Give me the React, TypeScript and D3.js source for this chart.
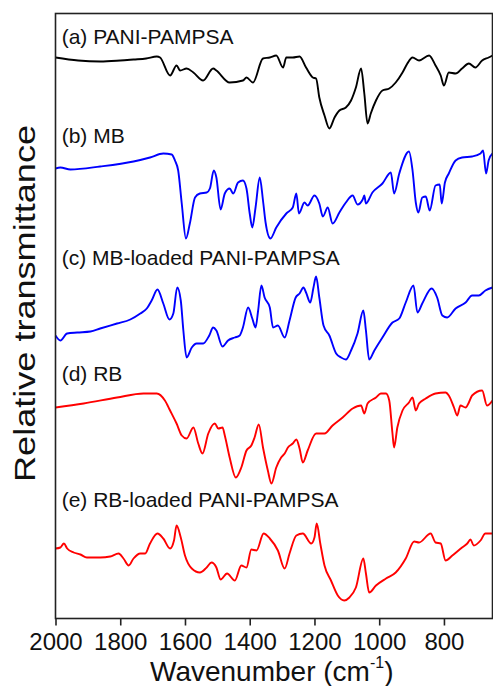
import React, { useEffect, useRef } from 'react';
import * as d3 from 'd3';

// FTIR spectra, [wavenumber (cm-1), relative transmittance (offset per trace)]
const specA: [number, number][] = [
  [2000, 56.1], [1930, 55.8], [1862, 55.7], [1800, 55.8], [1759, 55.9], [1720, 56.0], [1687, 56.2], [1677, 56.1],
  [1646, 54.3], [1626, 55.3], [1615, 54.8], [1595, 55.0], [1574, 54.6], [1544, 53.8], [1513, 55.0], [1503, 54.8],
  [1462, 53.6], [1421, 53.8], [1410, 54.1], [1390, 53.6], [1359, 56.0], [1338, 56.1], [1318, 56.3], [1297, 55.1],
  [1287, 56.1], [1267, 56.1], [1246, 56.2], [1226, 55.1], [1205, 54.1], [1195, 54.0], [1185, 52.1], [1169, 50.3],
  [1154, 49.0], [1138, 50.1], [1123, 50.8], [1103, 51.1], [1087, 51.8], [1072, 53.1], [1056, 55.0], [1046, 52.5],
  [1036, 49.5], [1026, 50.5], [1010, 51.8], [990, 52.8], [969, 53.0], [949, 53.6], [928, 54.6], [913, 55.5],
  [897, 56.1], [877, 55.8], [846, 56.3], [826, 55.3], [810, 54.3], [800, 53.3], [785, 54.6], [764, 54.5],
  [744, 55.0], [723, 55.5], [703, 55.1], [682, 55.8], [662, 56.1], [650, 56.3],
];

const specB: [number, number][] = [
  [2000, 45.0], [1985, 45.1], [1954, 44.9], [1862, 45.2], [1759, 45.7], [1708, 46.1], [1667, 46.5], [1641, 46.4],
  [1631, 45.8], [1621, 44.8], [1610, 41.5], [1597, 38.0], [1585, 39.5], [1569, 42.1], [1554, 42.5], [1533, 42.6],
  [1523, 43.0], [1511, 44.8], [1503, 44.1], [1490, 40.9], [1477, 42.5], [1462, 43.0], [1451, 42.5], [1436, 43.6],
  [1421, 43.8], [1410, 43.0], [1400, 40.5], [1392, 39.1], [1382, 41.1], [1369, 44.1], [1359, 41.8], [1351, 39.6],
  [1336, 38.0], [1318, 39.1], [1287, 40.5], [1267, 41.1], [1256, 42.5], [1248, 40.5], [1231, 41.6], [1221, 41.3],
  [1200, 42.3], [1185, 41.5], [1174, 40.2], [1159, 41.1], [1144, 39.5], [1123, 40.6], [1103, 41.6], [1082, 42.3],
  [1067, 41.4], [1051, 41.9], [1046, 42.3], [1041, 41.5], [1021, 42.6], [990, 43.5], [964, 44.6], [954, 42.5],
  [938, 44.5], [908, 46.7], [897, 44.8], [887, 41.6], [879, 40.6], [867, 42.1], [856, 42.2], [844, 40.8],
  [826, 43.3], [813, 43.4], [807, 41.5], [797, 43.6], [785, 44.5], [764, 45.8], [744, 46.1], [713, 46.2],
  [687, 46.5], [679, 46.8], [670, 44.5], [662, 45.8], [650, 46.5],
];

const specC: [number, number][] = [
  [2000, 28.3], [1985, 27.8], [1964, 28.5], [1933, 28.6], [1892, 28.7], [1862, 29.0], [1810, 29.5], [1769, 29.9],
  [1738, 30.5], [1718, 31.0], [1703, 31.8], [1685, 32.9], [1667, 31.5], [1648, 29.9], [1636, 30.5], [1624, 33.1],
  [1613, 31.8], [1605, 28.8], [1595, 26.1], [1579, 27.1], [1564, 27.5], [1544, 27.5], [1525, 28.3], [1513, 29.1],
  [1503, 28.8], [1484, 27.2], [1467, 27.8], [1446, 28.1], [1431, 28.3], [1421, 29.1], [1405, 31.1], [1392, 30.0],
  [1382, 29.1], [1374, 30.8], [1364, 33.3], [1354, 32.1], [1338, 31.1], [1328, 29.1], [1313, 29.3], [1292, 28.1],
  [1277, 29.8], [1258, 32.1], [1246, 32.5], [1234, 33.1], [1226, 32.6], [1213, 31.6], [1203, 33.1], [1195, 34.2],
  [1185, 32.1], [1172, 29.3], [1154, 28.3], [1133, 26.5], [1118, 26.1], [1103, 25.9], [1087, 26.8], [1067, 28.5],
  [1049, 30.8], [1041, 28.8], [1031, 25.9], [1015, 26.8], [990, 28.1], [959, 29.6], [938, 30.0], [918, 31.6],
  [894, 33.3], [882, 30.6], [867, 31.5], [838, 33.0], [821, 32.1], [805, 30.3], [790, 30.1], [764, 31.0],
  [733, 31.6], [713, 32.3], [692, 32.3], [672, 32.8], [650, 33.1],
];

const specD: [number, number][] = [
  [2000, 21.1], [1913, 21.5], [1810, 22.1], [1728, 22.5], [1687, 22.5], [1662, 21.8], [1646, 20.8], [1626, 19.5],
  [1610, 18.3], [1595, 18.0], [1574, 19.1], [1559, 17.5], [1546, 16.5], [1528, 18.5], [1508, 19.5], [1497, 19.0],
  [1484, 19.1], [1477, 18.3], [1462, 16.1], [1443, 14.1], [1426, 15.1], [1410, 16.8], [1395, 17.3], [1385, 18.1],
  [1372, 19.4], [1359, 17.1], [1344, 14.8], [1333, 13.5], [1318, 15.1], [1303, 16.1], [1292, 16.5], [1282, 17.1],
  [1267, 17.5], [1256, 17.9], [1246, 17.0], [1236, 15.6], [1221, 16.8], [1195, 18.5], [1169, 18.5], [1144, 19.3],
  [1113, 20.1], [1082, 21.0], [1056, 21.3], [1046, 20.5], [1036, 21.5], [1010, 22.1], [995, 22.5], [979, 22.5],
  [969, 21.8], [959, 18.5], [954, 17.1], [944, 19.1], [928, 20.8], [908, 21.6], [897, 22.1], [887, 20.8],
  [877, 21.5], [856, 22.0], [826, 22.5], [795, 22.6], [785, 22.3], [769, 21.1], [759, 20.3], [749, 21.3],
  [733, 21.1], [723, 21.6], [713, 22.3], [682, 22.8], [667, 21.3], [650, 21.8],
];

const specE: [number, number][] = [
  [2000, 7.0], [1985, 7.1], [1974, 7.5], [1964, 7.0], [1944, 6.6], [1923, 6.4], [1903, 6.1], [1862, 6.1],
  [1831, 6.2], [1805, 6.5], [1790, 6.0], [1774, 5.3], [1759, 6.0], [1738, 6.5], [1723, 6.5], [1708, 7.5],
  [1685, 8.5], [1667, 8.0], [1646, 7.0], [1634, 7.8], [1626, 9.3], [1613, 8.1], [1600, 6.3], [1579, 5.0],
  [1554, 4.6], [1533, 5.1], [1518, 5.6], [1503, 5.1], [1490, 3.9], [1470, 4.5], [1446, 3.8], [1426, 5.3],
  [1410, 5.1], [1395, 6.9], [1379, 6.8], [1357, 8.5], [1338, 8.0], [1313, 6.8], [1292, 5.0], [1277, 6.5],
  [1256, 8.3], [1236, 8.5], [1210, 7.5], [1200, 8.1], [1193, 9.5], [1182, 7.5], [1169, 5.3], [1149, 3.8],
  [1128, 2.3], [1108, 1.8], [1092, 2.1], [1072, 3.1], [1049, 6.0], [1041, 4.5], [1031, 2.6], [1010, 3.3],
  [979, 4.0], [949, 4.6], [918, 6.0], [892, 7.7], [877, 7.6], [841, 8.5], [826, 7.6], [810, 7.5],
  [795, 5.8], [774, 6.3], [744, 7.1], [728, 7.5], [718, 7.9], [708, 7.3], [687, 7.8], [672, 8.5], [650, 8.5],
];

const seriesData = [specA, specB, specC, specD, specE];
const seriesLabels = [
  '(a) PANI-PAMPSA',
  '(b) MB',
  '(c) MB-loaded PANI-PAMPSA',
  '(d) RB',
  '(e) RB-loaded PANI-PAMPSA',
];
const seriesColors = ['#000000', '#0000ff', '#0000ff', '#ff0000', '#ff0000'];
// where each label sits, in transmittance units
const labelLevels = [57.5, 47.55, 35.35, 23.8, 11.15];
const xTicks = [2000, 1800, 1600, 1400, 1200, 1000, 800];

const FONT = '"Liberation Sans", Arial, sans-serif';

const App: React.FC = () => {
  const svgRef = useRef<SVGSVGElement>(null);
  const width = 493;
  const height = 686;

  useEffect(() => {
    if (!svgRef.current) return;
    const svg = d3.select(svgRef.current);
    svg.selectAll('*').remove();

    const margin = { top: 13.5, right: 0.5, bottom: 67.5, left: 55.5 };
    const x0 = margin.left;
    const x1 = width - margin.right;
    const y0 = margin.top;
    const y1 = height - margin.bottom;

    const xScale = d3.scaleLinear().domain([2000, 650]).range([x0, x1]);
    const yScale = d3.scaleLinear().domain([0, 60.5]).range([y1, y0]);

    svg.append('rect')
      .attr('width', width)
      .attr('height', height)
      .attr('fill', '#fff');

    const line = d3.line<[number, number]>()
      .x(d => xScale(d[0]))
      .y(d => yScale(d[1]))
      .curve(d3.curveMonotoneX);

    // Spectra
    seriesData.forEach((s, i) => {
      svg.append('path')
        .datum(s)
        .attr('d', line)
        .attr('fill', 'none')
        .attr('stroke', seriesColors[i])
        .attr('stroke-width', 1.9)
        .attr('stroke-linejoin', 'round');
    });

    // Labels
    seriesLabels.forEach((label, i) => {
      svg.append('text')
        .attr('x', xScale(1981))
        .attr('y', yScale(labelLevels[i]))
        .style('font-family', FONT)
        .style('font-size', '21px')
        .style('fill', '#111')
        .text(label);
    });

    // Frame
    svg.append('rect')
      .attr('x', x0)
      .attr('y', y0)
      .attr('width', x1 - x0)
      .attr('height', y1 - y0)
      .attr('fill', 'none')
      .attr('stroke', '#222')
      .attr('stroke-width', 1.6);

    // x-axis
    const xAxis = d3.axisBottom(xScale)
      .tickValues(xTicks)
      .tickSize(7)
      .tickPadding(7.5)
      .tickFormat(d => `${d}`);

    const ax = svg.append('g')
      .attr('transform', `translate(0,${y1})`)
      .call(xAxis);
    ax.select('.domain').remove();
    ax.selectAll('line').attr('stroke', '#222').attr('stroke-width', 1.6);
    ax.selectAll('text')
      .style('font-family', FONT)
      .style('font-size', '24px')
      .style('fill', '#111');

    // x-axis title
    const xt = svg.append('text')
      .attr('x', 150)
      .attr('y', 681)
      .style('font-family', FONT)
      .style('font-size', '28px')
      .style('fill', '#111');
    xt.append('tspan').text('Wavenumber (cm');
    xt.append('tspan').attr('dy', -13).style('font-size', '16px').text('-1');
    xt.append('tspan').attr('dy', 13).text(')');

    // y-axis title
    svg.append('text')
      .attr('transform', `translate(35,303.5) rotate(-90)`)
      .attr('text-anchor', 'middle')
      .attr('textLength', 357)
      .attr('lengthAdjust', 'spacingAndGlyphs')
      .style('font-family', FONT)
      .style('font-size', '29px')
      .style('fill', '#111')
      .text('Relative transmittance');
  }, []);

  return (
    <svg
      ref={svgRef}
      width={width}
      height={height}
      style={{ position: 'absolute', left: 0, top: 0, display: 'block' }}
    />
  );
};

export default App;
